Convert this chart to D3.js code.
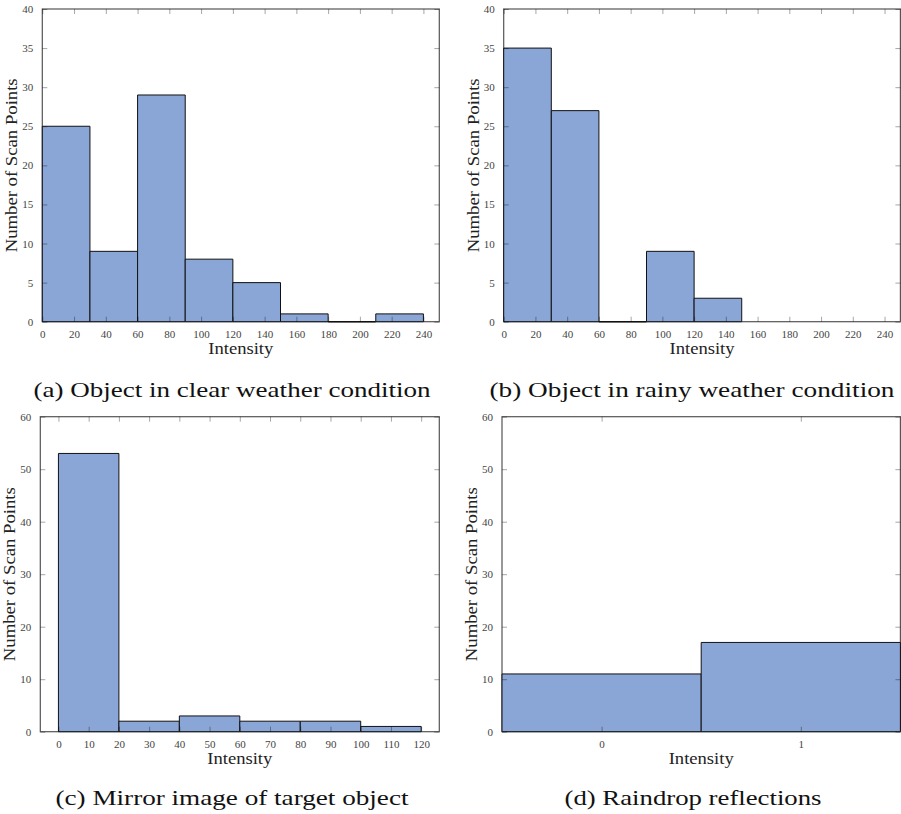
<!DOCTYPE html>
<html>
<head>
<meta charset="utf-8">
<script src="https://cdn.jsdelivr.net/npm/d3@7"></script>
<style>
  body { margin: 0; background: #fff; }
  svg { display: block; font-family: "Liberation Serif", "DejaVu Serif", serif; }
  svg text { font-family: "Liberation Serif", "DejaVu Serif", serif; }
</style>
</head>
<body>
<svg id="chart" width="901" height="814"></svg>
<script>

////////// Dados

// (a) clear weather
const clearEdges  = [0, 30, 60, 90, 120, 150, 180, 210, 240];
const clearCounts = [25, 9, 29, 8, 5, 1, 0, 1];

// (b) rainy weather
const rainyEdges  = [0, 30, 60, 90, 120, 150];
const rainyCounts = [35, 27, 0, 9, 3];

// (c) mirror image
const mirrorEdges  = [0, 20, 40, 60, 80, 100, 120];
const mirrorCounts = [53, 2, 3, 2, 2, 1];

// (d) raindrops
const dropEdges  = [-0.5, 0.5, 1.5];
const dropCounts = [11, 17];

// ticks
const ticks240    = [0, 20, 40, 60, 80, 100, 120, 140, 160, 180, 200, 220, 240];
const ticks120    = [0, 10, 20, 30, 40, 50, 60, 70, 80, 90, 100, 110, 120];
const ticksDrop   = [0, 1];
const yTicks40    = [0, 5, 10, 15, 20, 25, 30, 35, 40];
const yTicks60    = [0, 10, 20, 30, 40, 50, 60];

const captions = [
  '(a) Object in clear weather condition',
  '(b) Object in rainy weather condition',
  '(c) Mirror image of target object',
  '(d) Raindrop reflections'
];

const xTitle = 'Intensity';
const yTitle = 'Number of Scan Points';

const svg = d3.select('#chart');

////////// desenha um histograma
function drawHist(p) {

  let x = d3.scaleLinear().domain(p.xDomain).range([p.left, p.right]);
  let y = d3.scaleLinear().domain(p.yDomain).range([p.bottom, p.top]);

  let g = svg.append('g');

  // frame first, bars go over it
  g.append('rect')
  .attr('x', p.left)
  .attr('y', p.top)
  .attr('width', p.right - p.left)
  .attr('height', p.bottom - p.top)
  .attr('fill', 'none')
  .attr('stroke', '#555')
  .attr('stroke-width', 1.2)
  ;

  // bars as paths so that empty bins still show a line
  let bins = p.counts.map((c, i) => ({x0: p.edges[i], x1: p.edges[i + 1], n: c}));

  g.selectAll('path.bar')
  .data(bins)
  .enter()
  .append('path')
  .attr('class', 'bar')
  .attr('d', d => 'M' + x(d.x0) + ',' + y(0) + 'V' + y(d.n) + 'H' + x(d.x1) + 'V' + y(0) + 'Z')
  .attr('fill', '#8aa6d6')
  .attr('stroke', '#111')
  .attr('stroke-width', d => d.n === 0 ? 1.6 : 1)
  ;

  // ticks inside, on all four sides
  let axB = d3.axisBottom(x).tickValues(p.xTicks).tickSize(-5).tickPadding(9).tickFormat(d3.format('d'));
  let axT = d3.axisTop(x).tickValues(p.xTicks).tickSize(-5).tickFormat('');
  let axL = d3.axisLeft(y).tickValues(p.yTicks).tickSize(-5).tickPadding(9).tickFormat(d3.format('d'));
  let axR = d3.axisRight(y).tickValues(p.yTicks).tickSize(-5).tickFormat('');

  g.append('g').attr('transform', 'translate(0,' + p.bottom + ')').call(axB);
  g.append('g').attr('transform', 'translate(0,' + p.top + ')').call(axT);
  g.append('g').attr('transform', 'translate(' + p.left + ',0)').call(axL);
  g.append('g').attr('transform', 'translate(' + p.right + ',0)').call(axR);

  g.selectAll('.domain').remove();
  g.selectAll('g[font-family]').attr('font-family', null);
  g.selectAll('.tick line')
  .attr('stroke', '#000')
  .attr('stroke-opacity', 0.35)
  .attr('stroke-width', 1)
  ;
  g.selectAll('.tick text')
  .attr('fill', '#444')
  .style('font-size', '11px')
  ;

  // axis titles
  g.append('text')
  .attr('x', (p.left + p.right) / 2)
  .attr('y', p.bottom + 32)
  .attr('text-anchor', 'middle')
  .attr('textLength', 65)
  .attr('lengthAdjust', 'spacingAndGlyphs')
  .style('font-size', '16px')
  .attr('fill', '#222')
  .text(xTitle)
  ;

  g.append('text')
  .attr('transform', 'translate(' + (p.left - 25) + ',' + ((p.top + p.bottom) / 2) + ') rotate(-90)')
  .attr('text-anchor', 'middle')
  .attr('textLength', 174)
  .attr('lengthAdjust', 'spacingAndGlyphs')
  .style('font-size', '16px')
  .attr('fill', '#222')
  .text(yTitle)
  ;

  // caption
  g.append('text')
  .attr('x', p.capX)
  .attr('y', p.capY)
  .attr('text-anchor', 'middle')
  .attr('textLength', p.capW)
  .attr('lengthAdjust', 'spacingAndGlyphs')
  .style('font-size', '21px')
  .attr('fill', '#111')
  .text(p.caption)
  ;
}

drawHist({
  edges: clearEdges, counts: clearCounts, xTicks: ticks240, yTicks: yTicks40,
  xDomain: [0, 250], yDomain: [0, 40],
  left: 42.3, right: 439.3, top: 9, bottom: 321.7,
  caption: captions[0], capX: 232, capY: 397, capW: 397
});

drawHist({
  edges: rainyEdges, counts: rainyCounts, xTicks: ticks240, yTicks: yTicks40,
  xDomain: [0, 250], yDomain: [0, 40],
  left: 503.7, right: 900.4, top: 9, bottom: 321.7,
  caption: captions[1], capX: 692, capY: 397, capW: 405
});

drawHist({
  edges: mirrorEdges, counts: mirrorCounts, xTicks: ticks120, yTicks: yTicks60,
  xDomain: [-6, 126], yDomain: [0, 60],
  left: 40.3, right: 439.3, top: 416.7, bottom: 731.7,
  caption: captions[2], capX: 232, capY: 805, capW: 353
});

drawHist({
  edges: dropEdges, counts: dropCounts, xTicks: ticksDrop, yTicks: yTicks60,
  xDomain: [-0.5, 1.5], yDomain: [0, 60],
  left: 502, right: 900.4, top: 416.7, bottom: 731.7,
  caption: captions[3], capX: 693, capY: 805, capW: 257
});

</script>
</body>
</html>
